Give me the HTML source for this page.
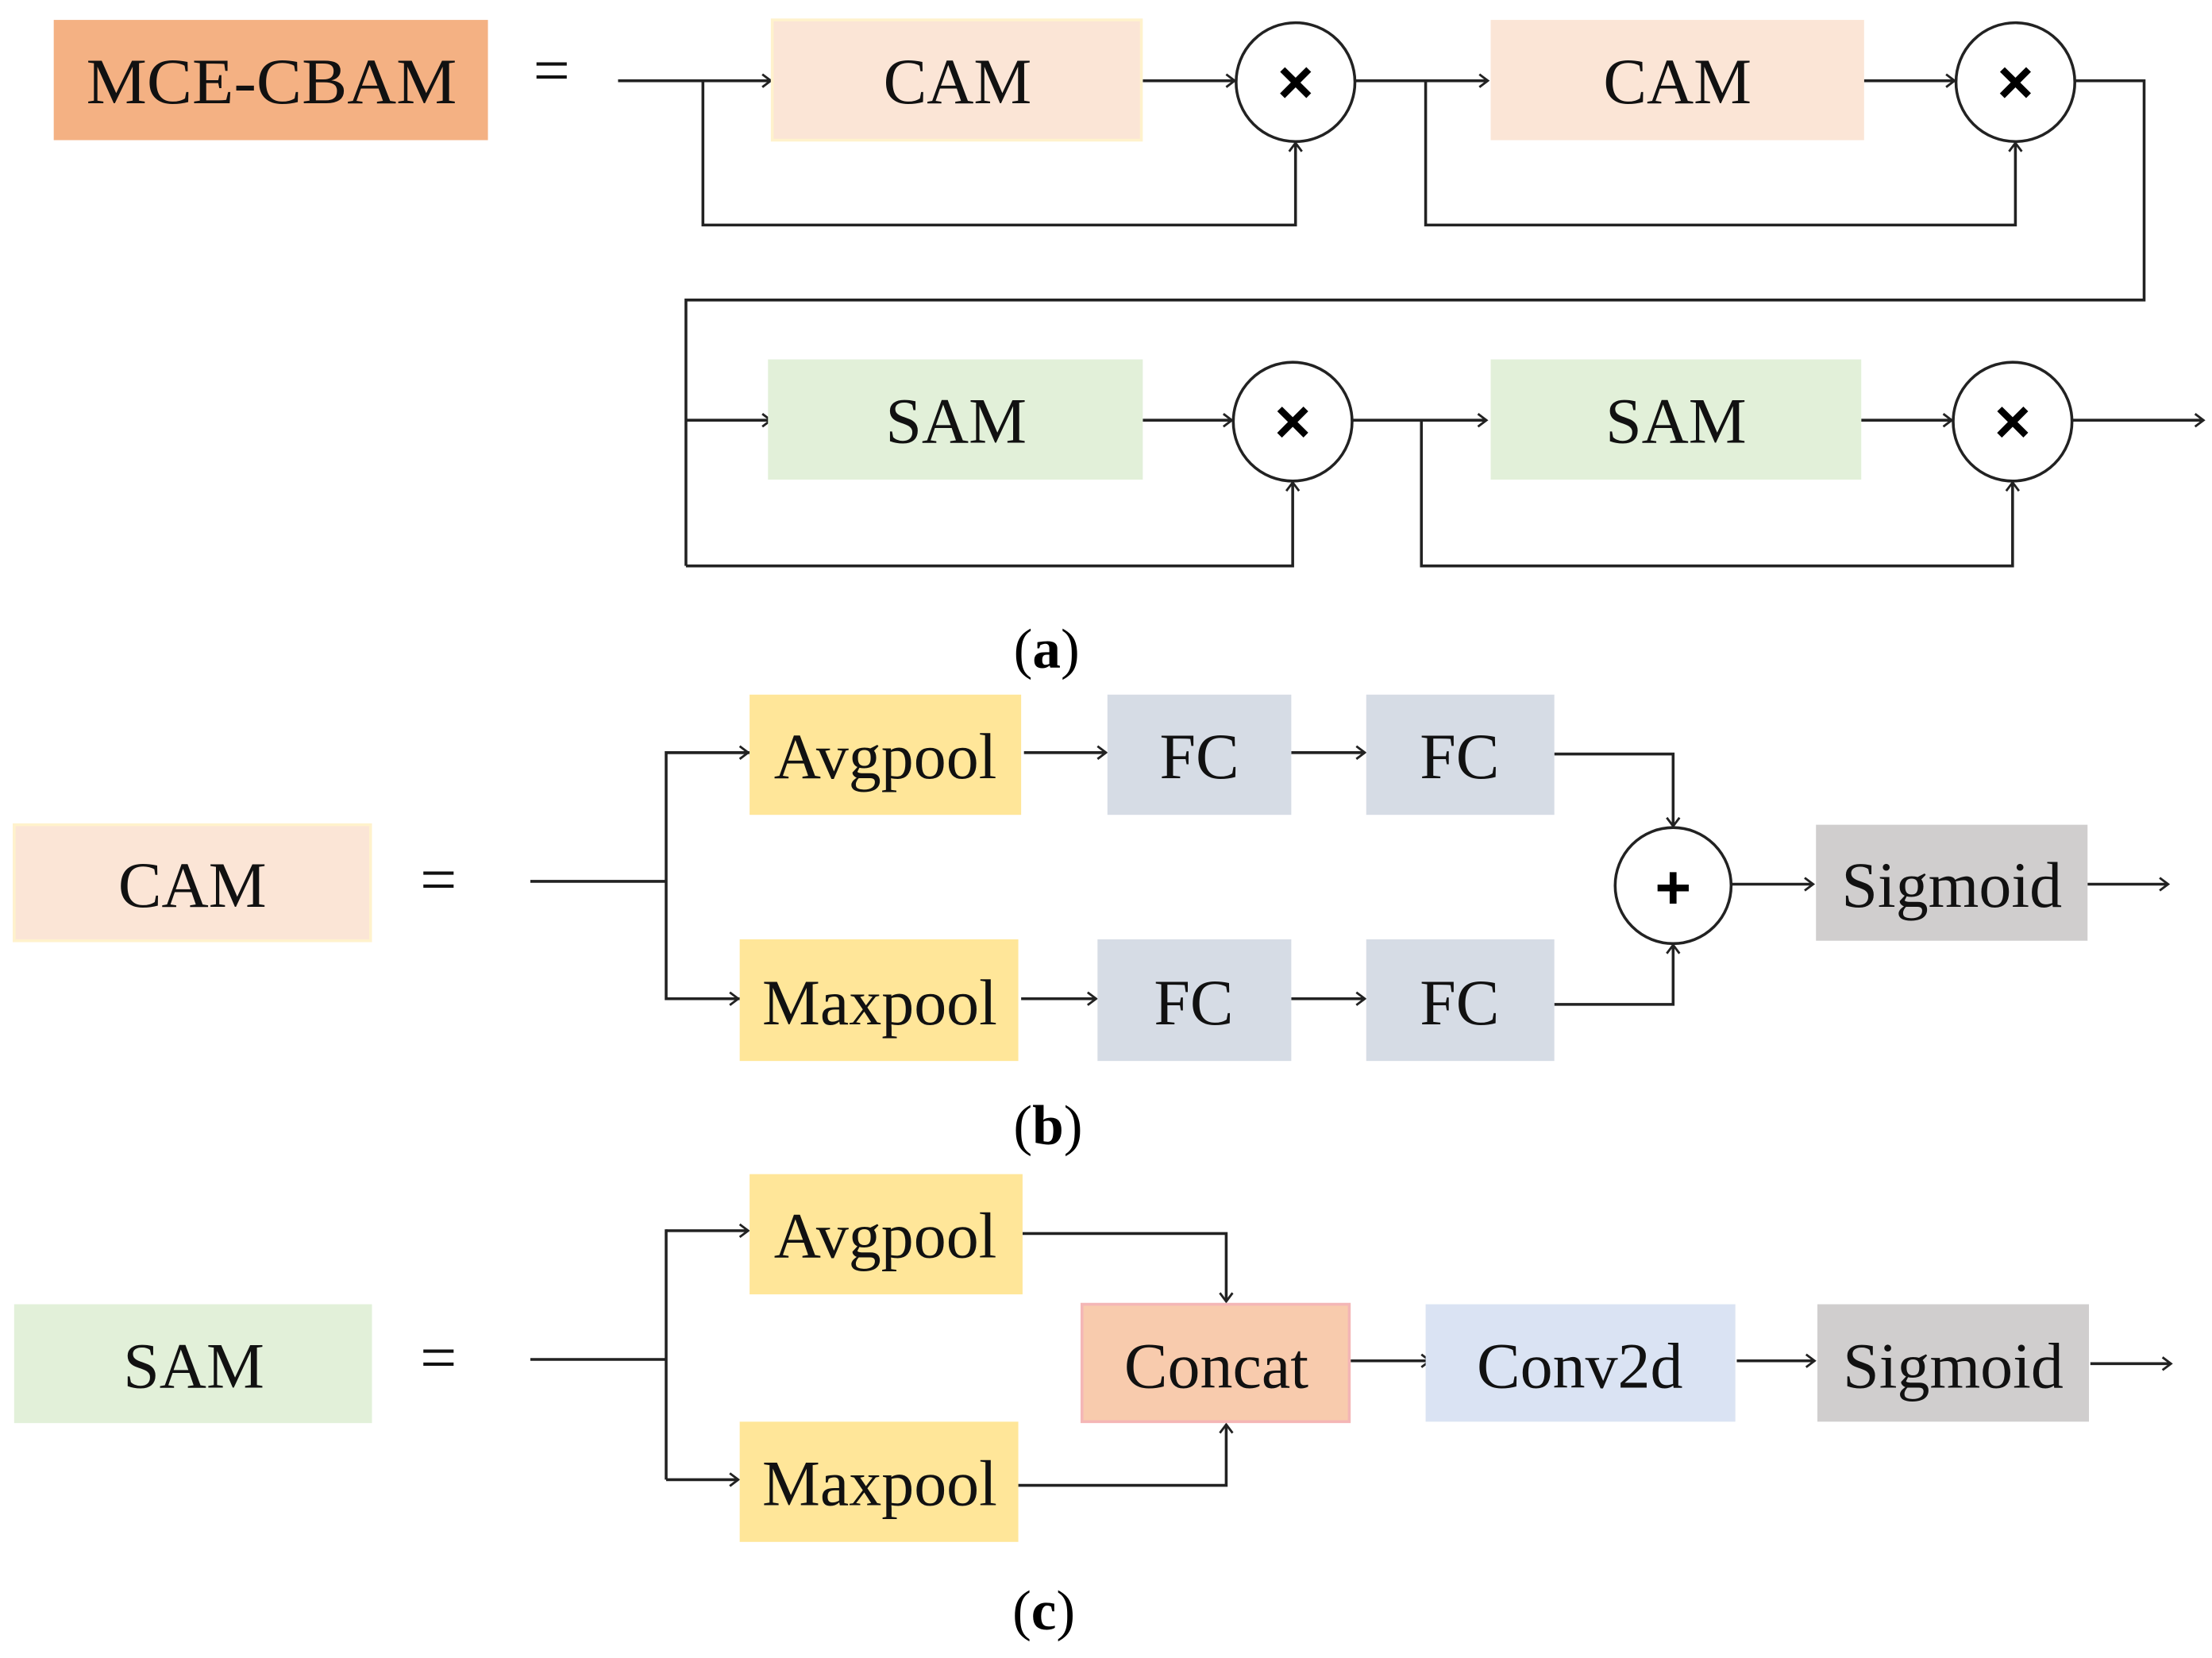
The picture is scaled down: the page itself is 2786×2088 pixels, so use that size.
<!DOCTYPE html>
<html><head><style>html,body{margin:0;padding:0;background:#fff}svg{display:block}</style></head><body>
<svg width="2786" height="2088" viewBox="0 0 1564 1172" xmlns="http://www.w3.org/2000/svg" font-family="Liberation Serif, serif">
<defs>
<marker id="a" markerWidth="12" markerHeight="12" refX="10" refY="6" orient="auto" markerUnits="userSpaceOnUse">
<polyline points="4,1.5 10,6 4,10.5" fill="none" stroke="#222" stroke-width="1.6"/>
</marker>
</defs>
<g stroke="#222" stroke-width="2" fill="none">
<!-- row 1 -->
<line x1="437" y1="57" x2="545" y2="57" marker-end="url(#a)"/>
<polyline points="497,57 497,159 916,159 916,101" marker-end="url(#a)"/>
<line x1="808" y1="57" x2="873" y2="57" marker-end="url(#a)"/>
<line x1="958" y1="57" x2="1052" y2="57" marker-end="url(#a)"/>
<polyline points="1008,57 1008,159 1425,159 1425,101" marker-end="url(#a)"/>
<line x1="1318" y1="57" x2="1382" y2="57" marker-end="url(#a)"/>
<polyline points="1467,57 1516,57 1516,212 485,212 485,400"/>
<!-- row 2 -->
<line x1="485" y1="297" x2="545" y2="297" marker-end="url(#a)"/>
<polyline points="485,400 914,400 914,341" marker-end="url(#a)"/>
<line x1="808" y1="297" x2="871" y2="297" marker-end="url(#a)"/>
<line x1="956" y1="297" x2="1051" y2="297" marker-end="url(#a)"/>
<polyline points="1005,297 1005,400 1423,400 1423,341" marker-end="url(#a)"/>
<line x1="1316" y1="297" x2="1380" y2="297" marker-end="url(#a)"/>
<line x1="1465" y1="297" x2="1558" y2="297" marker-end="url(#a)"/>
<!-- b -->
<line x1="375" y1="623" x2="471" y2="623"/>
<polyline points="530,532 471,532 471,706 523,706" />
<line x1="471" y1="532" x2="529" y2="532" marker-end="url(#a)"/>
<line x1="471" y1="706" x2="522" y2="706" marker-end="url(#a)"/>
<line x1="724" y1="532" x2="782" y2="532" marker-end="url(#a)"/>
<line x1="913" y1="532" x2="965" y2="532" marker-end="url(#a)"/>
<line x1="722" y1="706" x2="775" y2="706" marker-end="url(#a)"/>
<line x1="913" y1="706" x2="965" y2="706" marker-end="url(#a)"/>
<polyline points="1099,533 1183,533 1183,584" marker-end="url(#a)"/>
<polyline points="1099,710 1183,710 1183,668" marker-end="url(#a)"/>
<line x1="1224" y1="625" x2="1282" y2="625" marker-end="url(#a)"/>
<line x1="1476" y1="625" x2="1533" y2="625" marker-end="url(#a)"/>
<!-- c -->
<line x1="375" y1="961" x2="471" y2="961"/>
<line x1="471" y1="869" x2="471" y2="1046"/>
<line x1="471" y1="870" x2="529" y2="870" marker-end="url(#a)"/>
<line x1="471" y1="1046" x2="522" y2="1046" marker-end="url(#a)"/>
<polyline points="723,872 867,872 867,920" marker-end="url(#a)"/>
<polyline points="720,1050 867,1050 867,1007" marker-end="url(#a)"/>
<line x1="955" y1="962" x2="1011" y2="962" marker-end="url(#a)"/>
<line x1="1228" y1="962" x2="1283" y2="962" marker-end="url(#a)"/>
<line x1="1478" y1="964" x2="1535" y2="964" marker-end="url(#a)"/>
</g>
<!-- boxes -->
<rect x="38" y="14" width="307" height="85" fill="#F4B183"/>
<rect x="546" y="14" width="261" height="85" fill="#FBE5D6" stroke="#FFF2CC" stroke-width="2"/>
<rect x="1054" y="14" width="264" height="85" fill="#FBE5D6"/>
<rect x="543" y="254" width="265" height="85" fill="#E2F0D9"/>
<rect x="1054" y="254" width="262" height="85" fill="#E2F0D9"/>
<rect x="10" y="583" width="252" height="82" fill="#FBE5D6" stroke="#FFF2CC" stroke-width="2"/>
<rect x="530" y="491" width="192" height="85" fill="#FFE699"/>
<rect x="523" y="664" width="197" height="86" fill="#FFE699"/>
<rect x="783" y="491" width="130" height="85" fill="#D6DCE5"/>
<rect x="966" y="491" width="133" height="85" fill="#D6DCE5"/>
<rect x="776" y="664" width="137" height="86" fill="#D6DCE5"/>
<rect x="966" y="664" width="133" height="86" fill="#D6DCE5"/>
<rect x="1284" y="583" width="192" height="82" fill="#D0CECE"/>
<rect x="10" y="922" width="253" height="84" fill="#E2F0D9"/>
<rect x="530" y="830" width="193" height="85" fill="#FFE699"/>
<rect x="523" y="1005" width="197" height="85" fill="#FFE699"/>
<rect x="765" y="922" width="189" height="83" fill="#F8CBAD" stroke="#F4B6B6" stroke-width="2"/>
<rect x="1008" y="922" width="219" height="83" fill="#DAE3F3"/>
<rect x="1285" y="922" width="192" height="83" fill="#D0CECE"/>
<!-- circles -->
<g fill="#fff" stroke="#222" stroke-width="2">
<circle cx="916" cy="58" r="42"/><circle cx="1425" cy="58" r="42"/>
<circle cx="914" cy="298" r="42"/><circle cx="1423" cy="298" r="42"/>
<circle cx="1183" cy="626" r="41"/>
</g>
<g font-family="Liberation Sans, sans-serif" font-weight="bold" font-size="44" text-anchor="middle" fill="#000">
<text x="916" y="73">×</text><text x="1425" y="73">×</text>
<text x="914" y="313">×</text><text x="1423" y="313">×</text>
<text x="1183" y="642">+</text>
</g>
<g font-size="46" text-anchor="middle" fill="#111">
<text x="192" y="73" textLength="262" lengthAdjust="spacingAndGlyphs">MCE-CBAM</text>
<text x="390" y="65">=</text>
<text x="677" y="73">CAM</text>
<text x="1186" y="73">CAM</text>
<text x="676" y="313">SAM</text>
<text x="1185" y="313">SAM</text>
<text x="136" y="641">CAM</text>
<text x="310" y="637">=</text>
<text x="626" y="550">Avgpool</text>
<text x="622" y="724">Maxpool</text>
<text x="848" y="550">FC</text>
<text x="1032" y="550">FC</text>
<text x="844" y="724">FC</text>
<text x="1032" y="724">FC</text>
<text x="1380" y="641">Sigmoid</text>
<text x="137" y="981">SAM</text>
<text x="310" y="975">=</text>
<text x="626" y="889">Avgpool</text>
<text x="622" y="1064">Maxpool</text>
<text x="860" y="981">Concat</text>
<text x="1117" y="981">Conv2d</text>
<text x="1381" y="981">Sigmoid</text>
</g>
<g font-size="40" text-anchor="middle" fill="#000">
<text x="740" y="472">(<tspan font-weight="bold">a</tspan>)</text>
<text x="741" y="809">(<tspan font-weight="bold">b</tspan>)</text>
<text x="738" y="1152">(<tspan font-weight="bold">c</tspan>)</text>
</g>
</svg>
</body></html>
